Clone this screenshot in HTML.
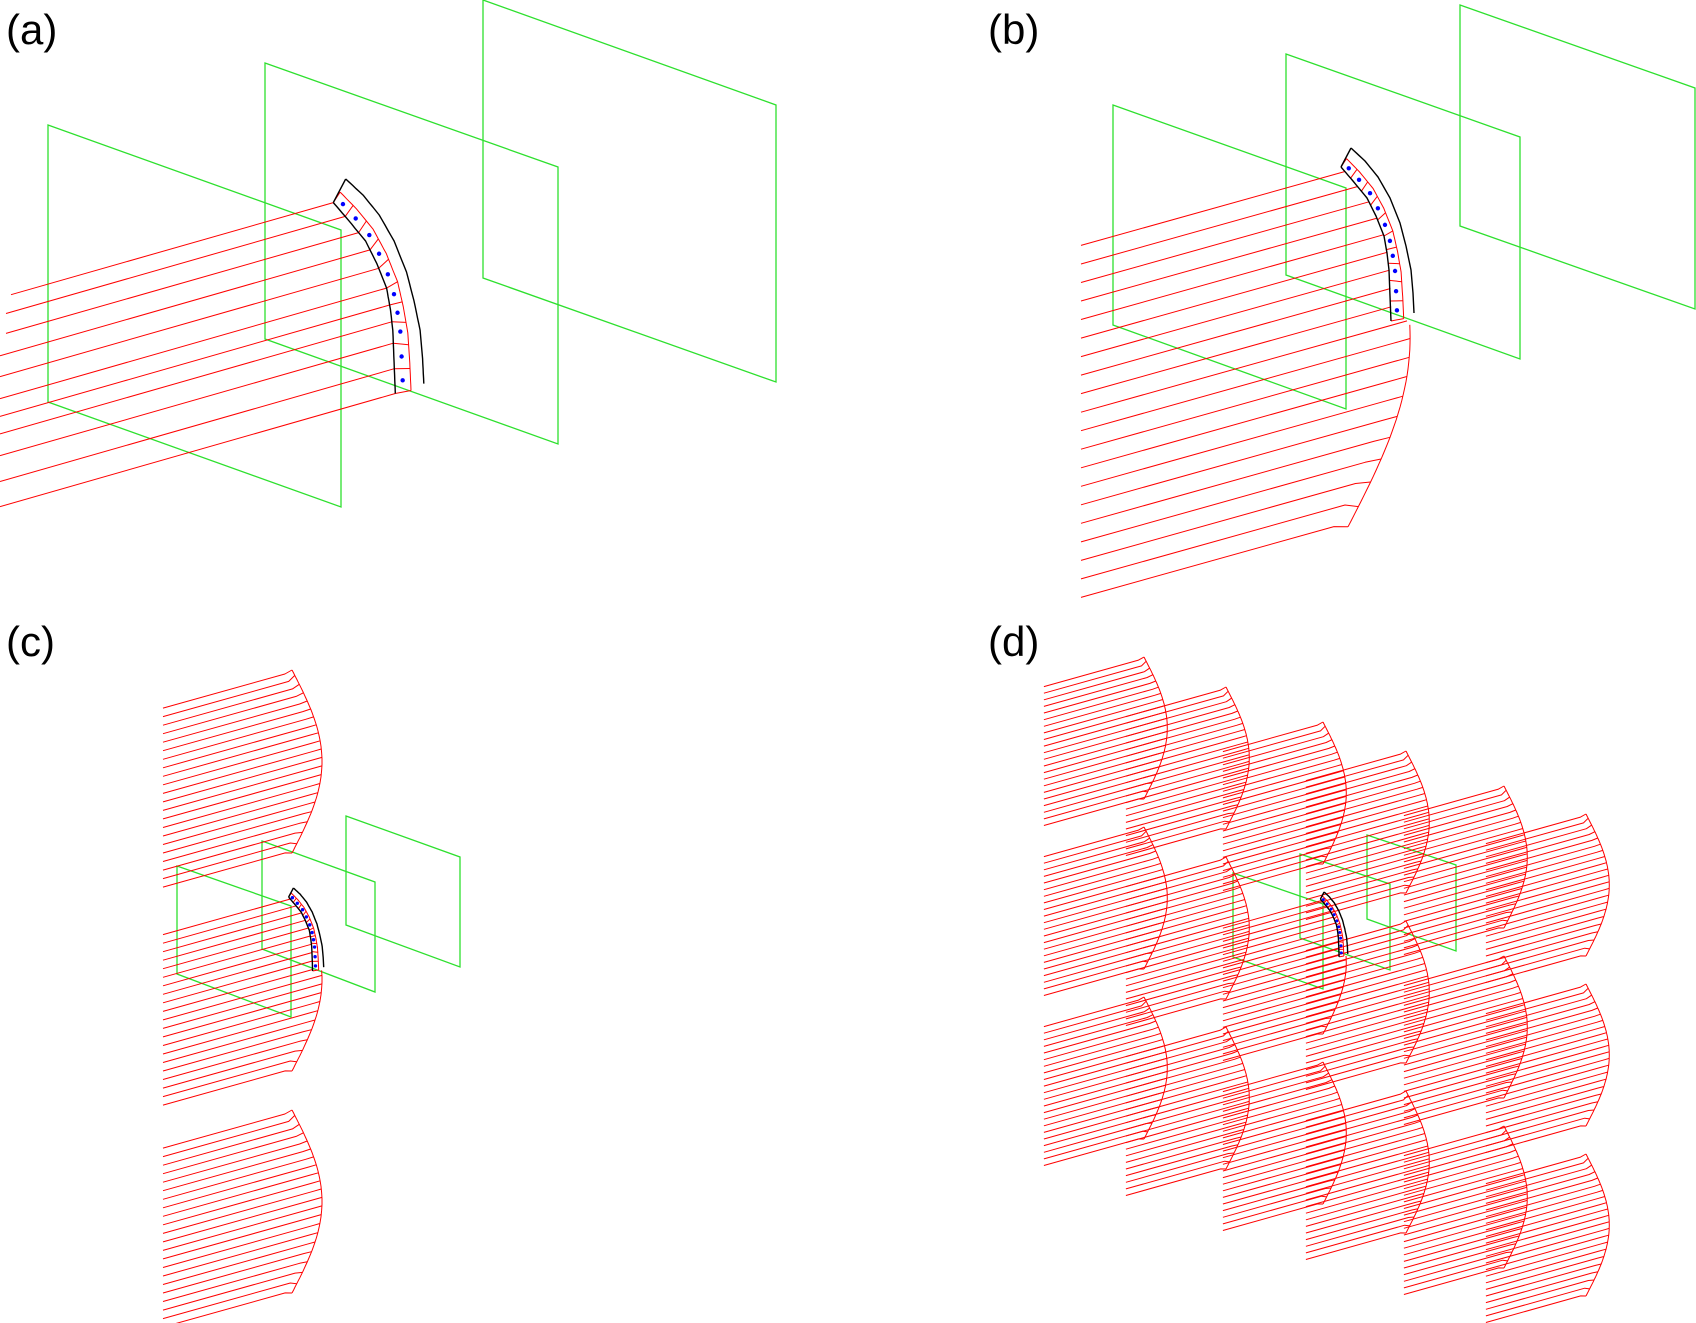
<!DOCTYPE html>
<html><head><meta charset="utf-8">
<style>
html,body{margin:0;padding:0;background:#fff;}
svg{display:block;}
text{font-family:"Liberation Sans",sans-serif;font-size:42px;fill:#000;}
</style></head>
<body>
<svg id="s" xmlns="http://www.w3.org/2000/svg" width="1696" height="1323" viewBox="0 0 1696 1323">
<rect width="1696" height="1323" fill="#fff"/>
<text x="6" y="44">(a)</text>
<text x="988" y="44">(b)</text>
<text x="6" y="656">(c)</text>
<text x="988" y="656">(d)</text>
</svg>
<script>
const S=document.getElementById('s');const NS='http://www.w3.org/2000/svg';
function add(t,a){const e=document.createElementNS(NS,t);for(const k in a)e.setAttribute(k,a[k]);S.appendChild(e);return e;}
function P(p){return p.map(q=>q[0].toFixed(1)+','+q[1].toFixed(1)).join(' ');}
function pl(p,c,w){add('polyline',{points:P(p),fill:'none',stroke:c,'stroke-width':w||1,'stroke-linejoin':'round'});}
function plane(p){add('polygon',{points:P(p),fill:'none',stroke:'#2ee02e','stroke-width':1.3});}
function at(poly,u){const n=poly.length-1;let f=u*n;let i=Math.min(Math.floor(f),n-1);let r=f-i;return [poly[i][0]+(poly[i+1][0]-poly[i][0])*r,poly[i][1]+(poly[i+1][1]-poly[i][1])*r];}
const IN=[[-7,19],[5,33],[19,50],[28,68],[36,88],[39,105],[41,122],[42,148],[43,173]];
const OUT=[[3,0],[17,13],[30,29],[42,50],[52,75],[58,98],[63,122],[65,145],[66,165]];
function elemGeom(ox,oy,k){
 const inner=IN.map(p=>[ox+k*p[0],oy+k*p[1]]);
 const outer=OUT.map(p=>[ox+k*p[0],oy+k*p[1]]);
 return {inner,outer,k};
}
function innerX(g,y){const a=g.inner;if(y<a[0][1]||y>a[a.length-1][1])return null;
 for(let i=0;i<a.length-1;i++){if(y>=a[i][1]&&y<=a[i+1][1]){const r=(y-a[i][1])/(a[i+1][1]-a[i][1]||1);return a[i][0]+(a[i+1][0]-a[i][0])*r;}}return null;}
function drawElem(g){
 const M=40,red=[],inr=[],out=[];
 for(let j=0;j<=M;j++){const u=j/M;const a=at(g.inner,u),b=at(g.outer,u);inr.push(a);out.push(b);red.push([a[0]*0.45+b[0]*0.55,a[1]*0.45+b[1]*0.55+2*g.k]);}
 pl(red,'#ff0000',1);
 for(let j=0;j<=10;j++){const u=j/10;const a=at(inr,u),b=at(red,u);pl([a,b],'#ff0000',1);}
 pl(inr,'#000',1.4);pl(out,'#000',1.4);pl([inr[0],out[0]],'#000',1.4);
 const r=Math.max(1.3,2.2*Math.min(1,g.k+0.3));
 for(let j=0;j<10;j++){const u=(j+0.5)/10;const a=at(inr,u),b=at(red,u);add('circle',{cx:(a[0]+b[0])/2,cy:(a[1]+b[1])/2,r:r,fill:'#0000ff'});}
}
function cut(g,L,B){
 const n=400;for(let i=0;i<=n;i++){const x=L[0]+(B[0]-L[0])*i/n,y=L[1]+(B[1]-L[1])*i/n;const ix=innerX(g,y);if(ix!==null&&x>=ix)return [x,y];}return null;}
function shell(tx,ty,s,N,g){
 const arc=[];const bottomY=g?g.inner[g.inner.length-1][1]:-1e9;
 const H=183*s,W=30*s;
 const arcP=t=>[tx+W*Math.sin(Math.PI*t),ty+H*t];
 for(let j=0;j<=60;j++){const p=arcP(j/60);if(p[1]>=bottomY-2)arc.push(p);}
 if(arc.length>1)pl(arc,'#ff0000',1);
 const sl=0.28,Lx=tx-129*s;
 const y0=ty+sl*129*s+2*s, y1=ty+H+sl*129*s-2*s;
 for(let i=0;i<N;i++){const f=i/(N-1);
  const Ly=y0+(y1-y0)*f;const line=x=>Ly-sl*(x-Lx);
  let t=(line(tx)-ty)/H;
  for(let k=0;k<25;k++){t=Math.min(1,Math.max(0,t));const x=tx+W*Math.sin(Math.PI*t);t=(line(x)-ty)/H;}
  t=Math.min(1,Math.max(0,t));
  const A=arcP(t);
  const L=[Lx,Ly];
  if(g){const c=cut(g,L,A);if(c){pl([L,c],'#ff0000',1);continue;}
   if(A[1]<bottomY){continue;}}
  const e=Math.abs(1-2*t);const dt=0.035*Math.sign(0.5-t)*Math.pow(e,5);
  const t2=Math.min(1,Math.max(0,t-dt));const A2=arcP(t2);
  const h=8*s;const B=[A[0]-h,line(A[0]-h)];
  pl([L,B,A2],'#ff0000',1);}
}
plane([[48,125],[341,230],[341,507],[48,402]]);
plane([[265,63],[558,167],[558,444],[265,339]]);
plane([[483,0],[776,105],[776,382],[483,278]]);
{const g=elemGeom(342,179,1.24);
 for(let i=0;i<11;i++){const e=at(g.inner,i/10);const x0=i==0?11:(i<3?6:0);pl([[x0,e[1]+0.286*(e[0]-x0)],e],'#ff0000',1);}
 drawElem(g);}
plane([[1113,105],[1346,188],[1346,409],[1113,325]]);
plane([[1286,54],[1520,137],[1520,359],[1286,275]]);
plane([[1460,5],[1695,88],[1695,309],[1460,226]]);
{const g=elemGeom(1348,148,1);shell(1348,148,2.07,21,g);drawElem(g);}
plane([[177,866],[291,906],[291,1017],[177,974]]);
plane([[262,841],[375,882],[375,992],[262,949]]);
plane([[346,816],[460,857],[460,967],[346,925]]);
shell(292,670,1,22,null);
{const g=elemGeom(292,888,0.48);shell(292,888,1,22,g);drawElem(g);}
shell(292,1110,1,22,null);
plane([[1233,873],[1323,904],[1323,989],[1233,957]]);
plane([[1300,854],[1390,884],[1390,970],[1300,938]]);
plane([[1367,835],[1456,865],[1456,951],[1367,919]]);
{const cols=[[1144,657],[1226,687],[1323,722],[1406,751],[1504,786],[1586,814]];
 let ge=null;
 cols.forEach((c,ci)=>{for(let r=0;r<3;r++){const tx=c[0],ty=c[1]+r*170;
  if(ci==2&&r==1){ge=elemGeom(tx,ty,0.375);shell(tx,ty,0.776,22,ge);}else shell(tx,ty,0.776,22,null);}});
 drawElem(ge);}
</script>
</body></html>
